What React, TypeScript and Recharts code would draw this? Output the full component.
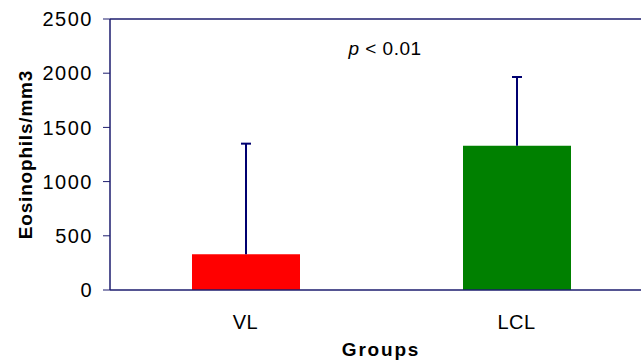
import { BarChart, Bar, Cell, XAxis, YAxis, ReferenceLine, Label } from 'recharts'

const groups = ['VL', 'LCL']
const means = [330, 1330]
const upperErrors = [1020, 635]
const barColors = ['#ff0000', '#008000']
const yTicks = [0, 500, 1000, 1500, 2000, 2500]
const edgeTicks = [0, 1, 2]

const data = groups.map((g, i) => ({ group: g, mean: means[i], err: upperErrors[i] }))

const NAVY = '#1c1c6e'
const FONT = '"Liberation Sans", Arial, sans-serif'

// draws the upper error whisker inside the stacked bar's box
const Whisker = (props: any) => {
  const { x, y, width, height } = props
  const cx = x + width / 2
  return (
    <g>
      <line x1={cx} y1={y + height} x2={cx} y2={y} stroke="#000070" strokeWidth={2} />
      <line x1={cx - 5} y1={y} x2={cx + 5} y2={y} stroke="#000070" strokeWidth={2} />
    </g>
  )
}

const PLabel = (props: any) => {
  const { viewBox } = props
  const cx = viewBox.x + viewBox.width / 2 + 4
  return (
    <text x={cx} y={viewBox.y + 9} textAnchor="middle" fontFamily={FONT} fontSize={19} letterSpacing={0.5} fill="#000">
      <tspan fontStyle="italic">p</tspan>
      <tspan> &lt; 0.01</tspan>
    </text>
  )
}

export default function App() {
  return (
    <div style={{ position: 'absolute', left: 0, top: 0, width: 641, height: 362, overflow: 'hidden', background: '#fff' }}>
      <BarChart
        width={660}
        height={362}
        data={data}
        margin={{ top: 18, right: 8, bottom: 32, left: 0 }}
      >
        <XAxis
          xAxisId="b"
          dataKey="group"
          height={39}
          axisLine={false}
          tickLine={false}
          tickSize={0}
          tickMargin={24}
          tick={{ fill: '#000', fontSize: 20, fontFamily: FONT, letterSpacing: 0.5 }}
        >
          <Label
            value="Groups"
            position="bottom"
            offset={13}
            style={{ fontFamily: FONT, fontSize: 19, fontWeight: 'bold', letterSpacing: 1.8, fill: '#000' }}
          />
        </XAxis>
        <XAxis
          xAxisId="a"
          type="number"
          domain={[0, 2]}
          ticks={edgeTicks}
          allowDataOverflow
          height={1}
          tick={false}
          axisLine={{ stroke: NAVY, strokeWidth: 1.5 }}
          tickLine={{ stroke: NAVY }}
          tickSize={6}
        />
        <XAxis
          xAxisId="top"
          orientation="top"
          type="number"
          domain={[0, 2]}
          allowDataOverflow
          height={1}
          tick={false}
          tickLine={false}
          axisLine={{ stroke: NAVY, strokeWidth: 1.5 }}
        />
        <YAxis
          width={110}
          domain={[0, 2500]}
          ticks={yTicks}
          interval={0}
          tickSize={7}
          tickMargin={10}
          axisLine={{ stroke: NAVY, strokeWidth: 1.5 }}
          tickLine={{ stroke: NAVY }}
          tick={{ fill: '#000', fontSize: 20, fontFamily: FONT, letterSpacing: 1.5 }}
        >
          <Label
            value="Eosinophils/mm3"
            angle={-90}
            position="insideLeft"
            offset={25}
            style={{ textAnchor: 'middle', fontFamily: FONT, fontSize: 19, fontWeight: 'bold', letterSpacing: 0.8, fill: '#000' }}
          />
        </YAxis>
        <ReferenceLine xAxisId="b" y={2250} stroke="none" label={<PLabel />} />
        <Bar xAxisId="b" dataKey="mean" stackId="s" barSize={108} isAnimationActive={false}>
          {data.map((d, i) => (
            <Cell key={d.group} fill={barColors[i]} />
          ))}
        </Bar>
        <Bar xAxisId="b" dataKey="err" stackId="s" barSize={108} shape={<Whisker />} isAnimationActive={false} />
      </BarChart>
    </div>
  )
}
